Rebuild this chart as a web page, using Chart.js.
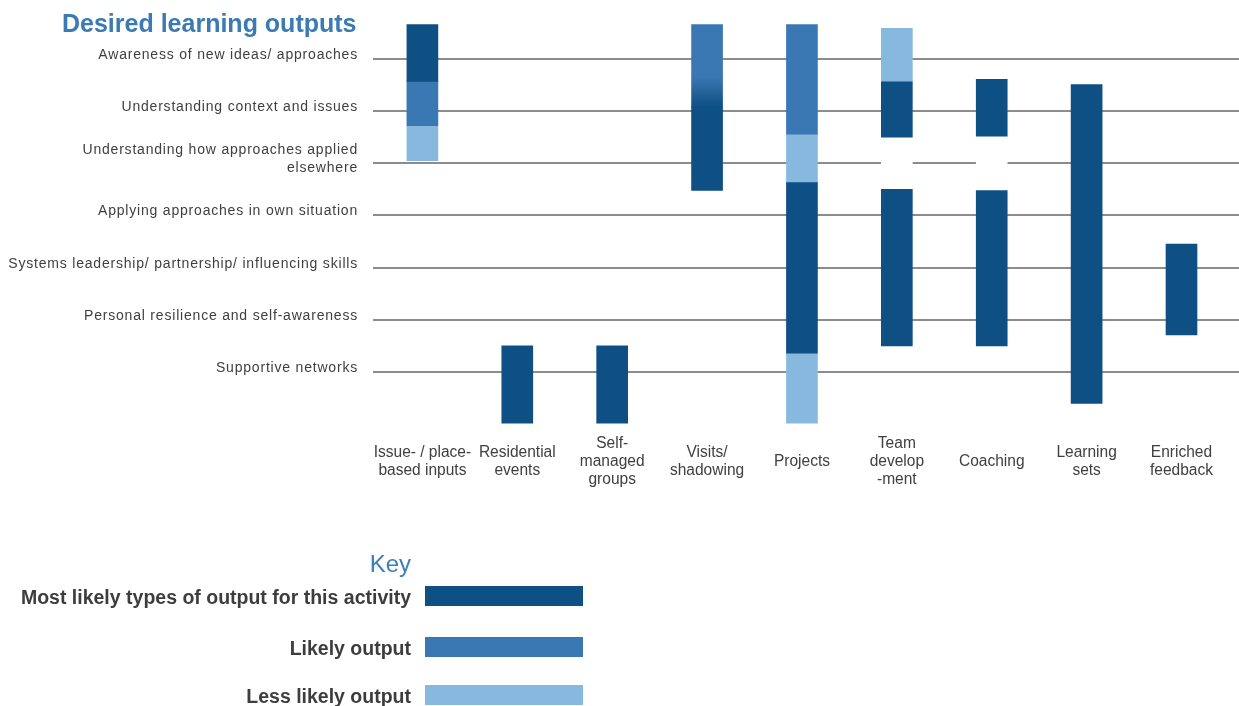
<!DOCTYPE html>
<html>
<head>
<meta charset="utf-8">
<script src="https://cdn.jsdelivr.net/npm/chart.js@4.4.1/dist/chart.umd.min.js"></script>
<style>
  html, body { margin: 0; padding: 0; background: #ffffff; }
  #wrap { position: relative; width: 1239px; height: 706px; overflow: hidden; }
  #c { position: absolute; left: 0; top: 0; }
  #title { position: absolute; left: 62px; top: 9px; line-height: 30px; white-space: nowrap;
           font: bold 25px 'Liberation Sans', Arial, sans-serif; color: #3b7ab3; letter-spacing: 0px; }
  #keyTitle { position: absolute; right: 828px; top: 550px; line-height: 30px;
              font: 24px 'Liberation Sans', Arial, sans-serif; color: #3f7fb6; }
  .krow { position: absolute; left: 0; width: 600px; height: 20px; }
  .klabel { position: absolute; right: 189px; top: 0; line-height: 22px; white-space: nowrap;
            font: bold 19.5px 'Liberation Sans', Arial, sans-serif; color: #3d3d3d; }
  .kbar { position: absolute; left: 425px; top: 0; width: 158px; height: 20px; }
</style>
</head>
<body>
<div id="wrap">
  <canvas id="c" width="1239" height="706"></canvas>
  <div id="title">Desired learning outputs</div>
  <div id="keyTitle">Key</div>
  <div id="key"></div>
</div>
<script>
// ---- Data ----
const activities = [
  ["Issue- / place-", "based inputs"],
  ["Residential", "events"],
  ["Self-", "managed", "groups"],
  ["Visits/", "shadowing"],
  "Projects",
  ["Team", "develop", "-ment"],
  "Coaching",
  ["Learning", "sets"],
  ["Enriched", "feedback"]
];
const outputs = [
  "Awareness of new ideas/ approaches",
  "Understanding context and issues",
  ["Understanding how approaches applied", "elsewhere"],
  "Applying approaches in own situation",
  "Systems leadership/ partnership/ influencing skills",
  "Personal resilience and self-awareness",
  "Supportive networks"
];
const levels = ["Most likely types of output for this activity", "Likely output", "Less likely output"];
const levelColors = ["#0e4f84", "#3a78b3", "#87b9df"];

// Spans in output-row units (0 = first output row, 6 = last); null = none
const mostLikely   = [[-0.66, 0.43], [5.50, 6.98], [5.50, 6.98], [0.92, 2.52], [2.37, 5.64], [0.44, 1.50], [0.39, 1.48], [0.49, 6.60], [3.55, 5.29]];
const mostLikely2  = [null, null, null, null, null, [2.50, 5.50], [2.52, 5.50], null, null];
const likely       = [[0.43, 1.28], null, null, [-0.66, 0.34], [-0.66, 1.44], null, null, null, null];
const likelyToMost = [null, null, null, [0.34, 0.92], null, null, null, null, null];
const lessLikely   = [[1.28, 1.95], null, null, null, [1.44, 2.37], [-0.59, 0.44], null, null, null];
const lessLikely2  = [null, null, null, null, [5.64, 6.98], null, null, null, null];
const gaps         = [null, null, null, null, null, [1.50, 2.50], [1.48, 2.52], null, null];

// ---- Tick label styling ----
const textStyle = { x: { stretch: 0.97, spacing: '0px' }, y: { stretch: 1, spacing: '0.8px' } };
class StyledLinearScale extends Chart.LinearScale {
  drawLabels(chartArea) {
    const opts = this.options;
    if (!opts.display || !opts.ticks.display) return;
    const st = textStyle[this.id] || { stretch: 1, spacing: '0px' };
    const ctx = this.ctx;
    for (const item of this.getLabelItems(chartArea)) {
      const o = item.options;
      const lines = Array.isArray(item.label) ? item.label : [item.label];
      ctx.save();
      ctx.translate(o.translation[0], o.translation[1]);
      if (o.rotation) ctx.rotate(o.rotation);
      ctx.scale(st.stretch, 1);
      ctx.font = item.font.string;
      ctx.fillStyle = o.color;
      ctx.textAlign = o.textAlign;
      ctx.textBaseline = o.textBaseline;
      if ('letterSpacing' in ctx) ctx.letterSpacing = st.spacing;
      let yy = item.textOffset;
      for (const line of lines) { ctx.fillText(line, 0, yy); yy += item.font.lineHeight; }
      ctx.restore();
    }
  }
}
StyledLinearScale.id = 'styledLinear';
StyledLinearScale.defaults = Chart.LinearScale.defaults;
Chart.register(StyledLinearScale);

// ---- Build datasets ----
function toPoints(arr) {
  return arr.map((v, i) => v ? { x: i, y: v } : null).filter(p => p !== null);
}
function blendFill(ctx) {
  const chart = ctx.chart;
  if (!chart.chartArea || !ctx.raw) return levelColors[1];
  const ys = chart.scales.y;
  const p0 = ys.getPixelForValue(ctx.raw.y[0]);
  const p1 = ys.getPixelForValue(ctx.raw.y[1]);
  const g = chart.ctx.createLinearGradient(0, p0, 0, p1);
  g.addColorStop(0, levelColors[1]);
  g.addColorStop(1, levelColors[0]);
  return g;
}
const common = { grouped: false, barThickness: 31, borderWidth: 0, borderSkipped: false };
const datasets = [
  { label: levels[0], data: toPoints(mostLikely),   backgroundColor: levelColors[0], ...common },
  { label: levels[0], data: toPoints(mostLikely2),  backgroundColor: levelColors[0], ...common },
  { label: levels[1], data: toPoints(likely),       backgroundColor: levelColors[1], ...common },
  { label: levels[1], data: toPoints(likelyToMost), backgroundColor: blendFill,      ...common },
  { label: levels[2], data: toPoints(lessLikely),   backgroundColor: levelColors[2], ...common },
  { label: levels[2], data: toPoints(lessLikely2),  backgroundColor: levelColors[2], ...common },
  { label: "gap",     data: toPoints(gaps),         backgroundColor: "#ffffff",      ...common }
];

const regular = "'Liberation Sans', Arial, sans-serif";

new Chart(document.getElementById('c'), {
  type: 'bar',
  data: { datasets },
  options: {
    responsive: false,
    animation: false,
    devicePixelRatio: 1,
    layout: { padding: { top: 19.87, bottom: 201.83, left: 0, right: 0 } },
    plugins: { legend: { display: false }, tooltip: { enabled: false }, title: { display: false } },
    scales: {
      x: {
        type: 'styledLinear',
        offset: false,
        min: -0.5206,
        max: 8.606,
        grid: { display: false, drawTicks: false },
        border: { display: false },
        afterBuildTicks: (s) => { s.ticks = activities.map((a, i) => ({ value: i })); },
        afterFit: (s) => { s.height = 80; s.paddingLeft = 0; s.paddingRight = 0; },
        ticks: {
          autoSkip: false, maxRotation: 0, minRotation: 0,
          crossAlign: 'center',
          padding: 19.5,
          color: '#404040',
          font: { family: regular, size: 16, lineHeight: 1.125 },
          callback: (v) => activities[v]
        }
      },
      y: {
        type: 'styledLinear',
        reverse: true,
        min: -0.75,
        max: 7.0,
        grid: { color: '#8c8c8c', lineWidth: 2, drawTicks: false },
        border: { display: false },
        afterBuildTicks: (s) => { s.ticks = outputs.map((o, i) => ({ value: i })); },
        afterFit: (s) => { s.width = 373; s.paddingTop = 0; s.paddingBottom = 0; },
        ticks: {
          autoSkip: false,
          padding: 15,
          labelOffset: -4,
          color: '#3f3f3f',
          font: { family: regular, size: 14, lineHeight: 1.25 },
          callback: (v) => outputs[v]
        }
      }
    }
  }
});

// ---- Key ----
const keyEl = document.getElementById('key');
const keyTops = [586, 637, 685];
levels.forEach((name, i) => {
  const row = document.createElement('div');
  row.className = 'krow';
  row.style.top = keyTops[i] + 'px';
  const lab = document.createElement('div');
  lab.className = 'klabel';
  lab.textContent = name;
  const bar = document.createElement('div');
  bar.className = 'kbar';
  bar.style.background = levelColors[i];
  row.appendChild(lab);
  row.appendChild(bar);
  keyEl.appendChild(row);
});
</script>
</body>
</html>
